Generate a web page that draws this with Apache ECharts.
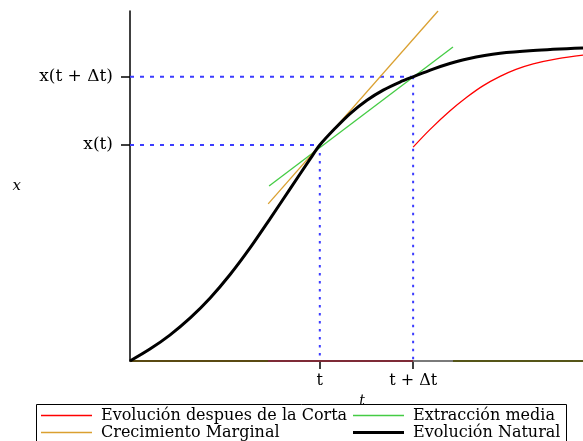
<!DOCTYPE html>
<html>
<head>
<meta charset="utf-8">
<script src="https://cdn.jsdelivr.net/npm/echarts@6/dist/echarts.min.js"></script>
<style>
  html, body { margin: 0; padding: 0; background: #fff; }
  #chart { width: 583px; height: 441px; }
</style>
</head>
<body>
<div id="chart"></div>
<script>
// positions on the t axis and x axis that get labels
var tNow = 41.9, tNext = 62.5;
var xNow = 61.7, xNext = 81.2;

// natural (logistic) evolution
var naturalT = [0, 4.4, 8.8, 13.3, 17.7, 22.1, 26.5, 30.9, 35.3, 39.7, 41.9, 45.3, 48.6, 52.3, 55.9, 59.6, 62.5, 66.9, 70.6, 74.4, 81.7, 89.0, 100];
var naturalX = [0, 3.4, 7.4, 12.3, 18.0, 24.7, 32.3, 40.6, 49.1, 57.6, 61.7, 66.5, 70.7, 74.5, 77.4, 79.7, 81.2, 83.4, 85.0, 86.3, 87.9, 88.7, 89.4];

// evolution after the cut
var cutT = [62.5, 66.2, 70.6, 74.4, 77.9, 81.7, 85.2, 89.0, 94.5, 100];
var cutX = [61.1, 66.1, 71.4, 75.4, 78.6, 81.3, 83.3, 84.9, 86.4, 87.4];

// marginal growth (tangent) and mean extraction (secant)
var marginalT = [30.5, 68.0];
var marginalX = [44.9, 100];
var meanT = [30.7, 71.3];
var meanX = [50.0, 89.7];

// coloured pieces lying on the zero line
var baseT = [[0, 30.5], [30.5, 62.5], [62.5, 71.3], [71.3, 100]];
var baseColors = ['#5a4a12', '#7e2a36', '#7a7a7a', '#555518'];

var names = ['Evolución despues de la Corta', 'Extracción media', 'Crecimiento Marginal', 'Evolución Natural'];

function pairs(a, b) {
    return a.map(function(v, i) { return [v, b[i]]; });
}

var chart = echarts.init(document.getElementById('chart'));
var serif = 'DejaVu Serif';
var blue = '#3c3cff';

var series = [];

// zero line pieces
baseT.forEach(function(seg, i) {
    series.push({
        type: 'line', symbol: 'none', silent: true,
        lineStyle: { color: baseColors[i], width: 2 },
        data: [[seg[0], 0], [seg[1], 0]]
    });
});

// guide lines
function guide(pts, dash) {
    series.push({
        type: 'line', symbol: 'none', silent: true,
        lineStyle: { color: blue, width: 2, type: dash },
        data: pts
    });
}
guide([[0, xNow], [tNow, xNow]], [4, 6]);
guide([[0, xNext], [tNext, xNext]], [4, 6]);
guide([[tNow, xNow], [tNow, 0]], [2.5, 5.5]);
guide([[tNext, xNext], [tNext, 0]], [2.5, 5.5]);

series.push({
    name: names[0], type: 'line', symbol: 'none', smooth: 0.3,
    lineStyle: { color: '#ff0000', width: 1.3 },
    itemStyle: { color: '#ff0000' },
    data: pairs(cutT, cutX)
});
series.push({
    name: names[1], type: 'line', symbol: 'none',
    lineStyle: { color: '#44cc44', width: 1.3 },
    itemStyle: { color: '#44cc44' },
    data: pairs(meanT, meanX)
});
series.push({
    name: names[2], type: 'line', symbol: 'none',
    lineStyle: { color: '#daa030', width: 1.3 },
    itemStyle: { color: '#daa030' },
    data: pairs(marginalT, marginalX)
});
series.push({
    name: names[3], type: 'line', symbol: 'none', smooth: 0.3,
    lineStyle: { color: '#000', width: 3 },
    itemStyle: { color: '#000' },
    data: pairs(naturalT, naturalX)
});

var legendText = { fontFamily: serif, fontSize: 16, color: '#000', lineHeight: 17, padding: [0, 0, 0, 4] };

function legendItem(name, left, top, thick) {
    return {
        left: left, top: top, padding: 0, icon: 'rect',
        itemWidth: 51, itemHeight: thick,
        data: [name],
        textStyle: legendText
    };
}

chart.setOption({
    animation: false,
    grid: { left: 130, right: 0, top: 11, bottom: 80 },
    xAxis: {
        type: 'value', min: 0, max: 100,
        name: 't', nameLocation: 'middle', nameGap: 31,
        nameTextStyle: { fontFamily: serif, fontStyle: 'italic', fontSize: 14, color: '#000', padding: [0, 0, 0, 11] },
        axisLine: { lineStyle: { color: '#000', width: 1.5 } },
        axisTick: { show: true, length: 8, customValues: [tNow, tNext], lineStyle: { color: '#000', width: 1.5 } },
        axisLabel: {
            customValues: [tNow, tNext], margin: 12,
            fontFamily: serif, fontSize: 16, color: '#000',
            formatter: function(v) { return v === tNow ? 't' : 't + Δt'; }
        },
        splitLine: { show: false }
    },
    yAxis: {
        type: 'value', min: 0, max: 100,
        name: 'x', nameLocation: 'middle', nameGap: 109, nameRotate: 0,
        nameTextStyle: { fontFamily: serif, fontStyle: 'italic', fontSize: 15, color: '#000' },
        axisLine: { lineStyle: { color: '#000', width: 1.5 } },
        axisTick: { show: true, length: 9, customValues: [xNow, xNext], lineStyle: { color: '#000', width: 1.5 } },
        axisLabel: {
            customValues: [xNow, xNext], margin: 17,
            fontFamily: serif, fontSize: 17, color: '#000',
            formatter: function(v) { return v === xNow ? 'x(t)' : 'x(t + Δt)'; }
        },
        splitLine: { show: false }
    },
    legend: [
        legendItem(names[0], 41, 407, 1.5),
        legendItem(names[2], 41, 424, 1.5),
        legendItem(names[1], 353, 407, 1.5),
        legendItem(names[3], 353, 424, 3)
    ],
    graphic: [{
        type: 'rect', silent: true,
        shape: { x: 36.5, y: 404.5, width: 530, height: 50 },
        style: { fill: null, stroke: '#000', lineWidth: 1 }
    }],
    series: series
});
</script>
</body>
</html>
